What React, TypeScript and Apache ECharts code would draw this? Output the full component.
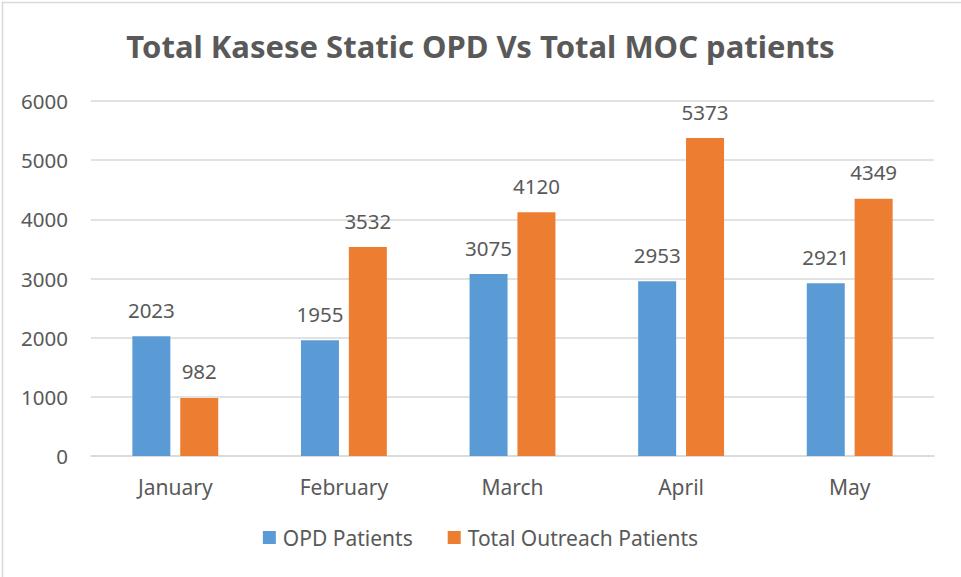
import React, { useEffect, useRef } from "react";
import * as echarts from "echarts";

const categories = ["January", "February", "March", "April", "May"];
const opdPatients = [2023, 1955, 3075, 2953, 2921];
const outreachPatients = [982, 3532, 4120, 5373, 4349];
const seriesNames = ["OPD Patients", "Total Outreach Patients"];
const titleText = "Total Kasese Static OPD Vs Total MOC patients";

const FONT = "'Noto Sans', 'Open Sans', sans-serif";
const TEXT = "#595959";

export default function App() {
  const ref = useRef<HTMLDivElement>(null);
  useEffect(() => {
    document.body.style.margin = "0";
    const chart = echarts.init(ref.current!, null, { renderer: "svg" });
    chart.setOption({
      animation: false,
      backgroundColor: "#ffffff",
      textStyle: { fontFamily: FONT, color: TEXT },
      title: {
        text: titleText,
        left: "center",
        top: 25,
        textStyle: { fontFamily: FONT, fontSize: 31, fontWeight: "bold", color: TEXT },
      },
      graphic: [
        {
          type: "rect",
          shape: { x: 2.5, y: 2.5, width: 1000, height: 1000 },
          style: { fill: "none", stroke: "#D9D9D9", lineWidth: 1.5 },
          silent: true,
        },
      ],
      legend: {
        bottom: 24,
        left: "center",
        itemWidth: 13,
        itemHeight: 13,
        itemGap: 35,
        icon: "rect",
        textStyle: { fontFamily: FONT, fontSize: 21, color: TEXT, padding: [0, 0, 0, 2] },
        data: seriesNames,
      },
      grid: { left: 91, right: 27, top: 101, bottom: 121 },
      xAxis: {
        type: "category",
        data: categories,
        axisLine: { lineStyle: { color: "#D9D9D9", width: 1.5 } },
        axisTick: { show: false },
        axisLabel: { fontFamily: FONT, fontSize: 21, color: TEXT, margin: 20 },
      },
      yAxis: {
        type: "value",
        min: 0,
        max: 6000,
        interval: 1000,
        axisLine: { show: false },
        axisTick: { show: false },
        splitLine: { lineStyle: { color: "#D9D9D9", width: 1.5 } },
        axisLabel: {
          fontFamily: FONT,
          fontSize: 20.5,
          color: TEXT,
          margin: 23,
          formatter: (v: number) => String(v),
        },
      },
      series: [
        {
          name: seriesNames[0],
          type: "bar",
          data: opdPatients,
          barWidth: 38,
          barGap: "26%",
          itemStyle: { color: "#5B9BD5" },
          label: { show: true, position: "top", distance: 16, fontFamily: FONT, fontSize: 20.5, color: TEXT },
        },
        {
          name: seriesNames[1],
          type: "bar",
          data: outreachPatients,
          barWidth: 38,
          itemStyle: { color: "#ED7D31" },
          label: { show: true, position: "top", distance: 16, fontFamily: FONT, fontSize: 20.5, color: TEXT },
        },
      ],
    });
    return () => chart.dispose();
  }, []);
  return <div ref={ref} style={{ width: 961, height: 577 }} />;
}
